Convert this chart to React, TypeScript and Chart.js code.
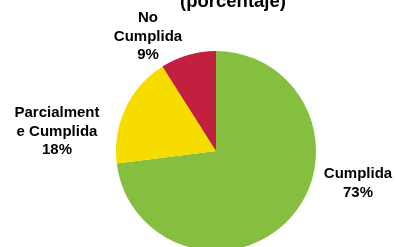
import React, { useEffect, useRef } from "react";
import { Chart, registerables } from "chart.js";

Chart.register(...registerables);

const categories = ["Cumplida", "Parcialmente Cumplida", "No Cumplida"];
const values = [73, 18, 9];
const labelLines = [
  ["Cumplida", "73%"],
  ["Parcialment", "e Cumplida", "18%"],
  ["No", "Cumplida", "9%"],
];
const colors = ["#86BF40", "#F7DC00", "#C1203E"];
const titleText = "(porcentaje)";

// label anchor offsets relative to pie centre (first baseline), in px
const labelOffsets = [
  [142, 27],
  [-159, -34],
  [-68, -129],
];

const textPlugin = {
  id: "texts",
  afterDraw(chart: any) {
    const ctx = chart.ctx;
    const meta = chart.getDatasetMeta(0);
    const arc = meta.data[0];
    const cx = arc.x;
    const cy = arc.y;
    ctx.save();
    ctx.fillStyle = "#000";
    ctx.textAlign = "center";
    ctx.textBaseline = "alphabetic";
    ctx.font = "bold 18.5px 'Liberation Sans', Arial, sans-serif";
    ctx.fillText(titleText, cx + 17, cy - 144);
    ctx.font = "bold 15px 'Liberation Sans', Arial, sans-serif";
    labelLines.forEach((lines, i) => {
      const [dx, dy] = labelOffsets[i];
      lines.forEach((t, j) => {
        ctx.fillText(t, cx + dx, cy + dy + j * 18.6);
      });
    });
    ctx.restore();
  },
};

export default function App() {
  const ref = useRef<HTMLCanvasElement>(null);
  useEffect(() => {
    const chart = new Chart(ref.current!, {
      type: "pie",
      data: {
        labels: categories,
        datasets: [
          {
            data: values,
            backgroundColor: colors,
            borderWidth: 0,
          },
        ],
      },
      options: {
        animation: false,
        responsive: false,
        maintainAspectRatio: false,
        layout: { padding: { top: 51, bottom: 9, left: 116, right: 80 } },
        plugins: {
          legend: { display: false },
          tooltip: { enabled: false },
          title: { display: false },
        },
      },
      plugins: [textPlugin],
    });
    return () => chart.destroy();
  }, []);
  return (
    <div
      style={{
        position: "fixed",
        left: 0,
        top: 0,
        width: 396,
        height: 247,
        overflow: "hidden",
        background: "#fff",
      }}
    >
      <canvas ref={ref} width={396} height={260} style={{ display: "block" }} />
    </div>
  );
}
